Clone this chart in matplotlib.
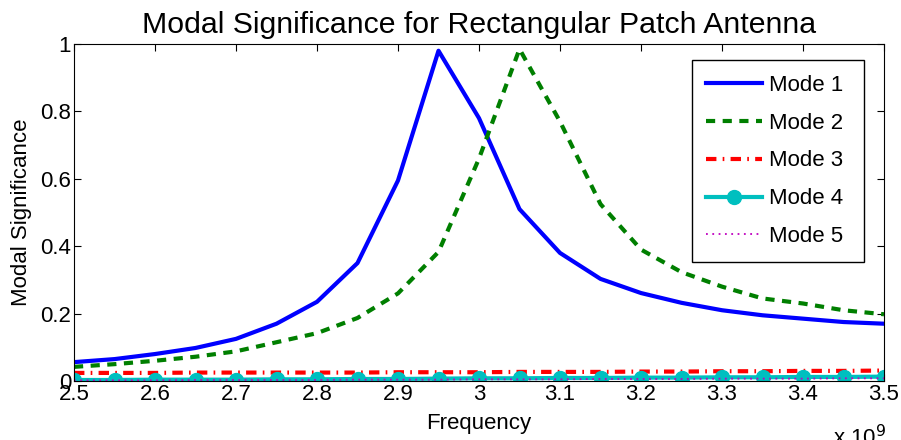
import numpy as np
import matplotlib.pyplot as plt

plt.rcParams['font.family'] = ['Liberation Sans', 'DejaVu Sans']

freq = np.linspace(2.5e9, 3.5e9, 21)

mode1 = [0.056, 0.065, 0.08, 0.098, 0.125, 0.17, 0.235, 0.35, 0.595, 0.98,
         0.78, 0.51, 0.38, 0.303, 0.261, 0.232, 0.21, 0.195, 0.185, 0.175, 0.17]
mode2 = [0.042, 0.05, 0.06, 0.072, 0.088, 0.115, 0.142, 0.187, 0.26, 0.383,
         0.66, 0.985, 0.77, 0.525, 0.39, 0.323, 0.28, 0.245, 0.23, 0.21, 0.198]
mode3 = [0.024, 0.024, 0.024, 0.025, 0.025, 0.025, 0.025, 0.025, 0.026, 0.026,
         0.026, 0.027, 0.027, 0.027, 0.028, 0.028, 0.029, 0.029, 0.030, 0.030, 0.031]
mode4 = [0.003, 0.003, 0.004, 0.004, 0.004, 0.005, 0.005, 0.006, 0.006, 0.007,
         0.008, 0.008, 0.009, 0.009, 0.010, 0.010, 0.011, 0.011, 0.012, 0.012, 0.013]
mode5 = [0.002, 0.002, 0.002, 0.003, 0.003, 0.003, 0.003, 0.004, 0.004, 0.004,
         0.005, 0.005, 0.005, 0.006, 0.006, 0.006, 0.007, 0.007, 0.007, 0.008, 0.008]

fig = plt.figure(figsize=(9.01, 4.4), dpi=100)
ax = fig.add_axes([74 / 901, 1 - 381 / 440, 810 / 901, 337 / 440])

ax.plot(freq, mode1, color='#0000ff', lw=3, label='Mode 1 ')
ax.plot(freq, mode2, color='#007f00', lw=3, ls=(0, (2.2, 1.8)), label='Mode 2 ')
ax.plot(freq, mode3, color='#ff0000', lw=3, ls=(0, (2.5, 1.5, 0.4, 1.5)), label='Mode 3 ')
ax.plot(freq, mode4, color='#00bfbf', lw=3, marker='o', ms=10, label='Mode 4 ')
ax.plot(freq, mode5, color='#bf00bf', lw=1.3, ls=(0, (1, 2.5)), label='Mode 5 ')

ax.set_xlim(2.5e9, 3.5e9)
ax.set_ylim(0, 1)
ax.set_xticks(np.arange(2.5e9, 3.51e9, 1e8))
ax.set_xticklabels(['2.5', '2.6', '2.7', '2.8', '2.9', '3', '3.1', '3.2', '3.3', '3.4', '3.5'])
ax.set_yticks([0, 0.2, 0.4, 0.6, 0.8, 1])
ax.set_yticklabels(['0', '0.2', '0.4', '0.6', '0.8', '1'])
ax.tick_params(direction='in', length=5, labelsize=16, pad=2, top=True, right=True)
# exponent note for the frequency axis, sits under the right end
ax.text(0.97, -0.13, r'x 10$^{9}$', transform=ax.transAxes, fontsize=16,
        ha='center', va='top')

ax.set_xlabel('Frequency', fontsize=16, labelpad=6)
ax.set_ylabel('Modal Significance', fontsize=16, labelpad=6)
ax.set_title('Modal Significance for Rectangular Patch Antenna', fontsize=21.8, pad=8)

leg = ax.legend(loc='upper right', bbox_to_anchor=(0.975, 0.9525), borderaxespad=0,
                fontsize=16, fancybox=False, edgecolor='black', framealpha=1,
                handlelength=2.5, handletextpad=0.3, labelspacing=0.76, borderpad=0.66)
leg.get_frame().set_linewidth(1)

fig.savefig('out.png', dpi=100)
